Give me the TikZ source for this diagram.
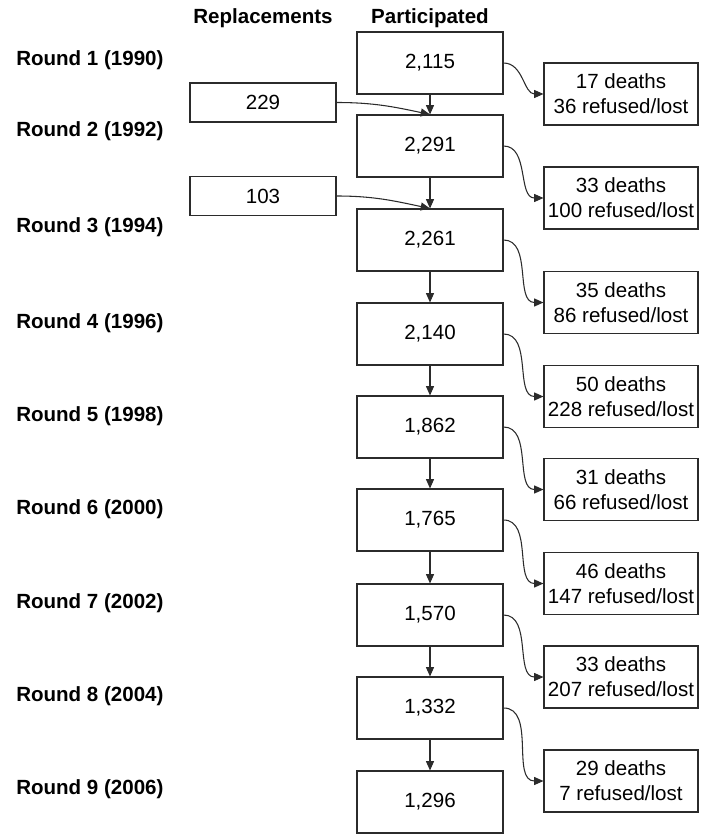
\documentclass[tikz,border=0pt]{standalone}
\usepackage{fontspec}
\setmainfont{Liberation Sans}
\usetikzlibrary{arrows.meta,positioning}
\definecolor{LineGray}{HTML}{2B2B2B}
\tikzset{
  pbox/.style={rectangle,draw=LineGray,line width=0.8pt,fill=white,
               minimum width=146*0.75pt,minimum height=62*0.75pt,
               inner sep=0pt,font=\fontsize{15.4}{18.8}\selectfont},
  rbox/.style={pbox,minimum height=39*0.75pt},
  dbox/.style={pbox,minimum width=154*0.75pt,align=center},
  rlab/.style={anchor=west,inner sep=0pt,font=\fontsize{15.4}{18.8}\selectfont\bfseries},
  head/.style={inner sep=0pt,font=\fontsize{15.4}{18.8}\selectfont\bfseries},
  arr/.style={-{Triangle[length=7pt,width=6pt]},line width=0.8pt,color=LineGray},
}
\begin{document}
\begin{tikzpicture}[x=0.75pt,y=-0.75pt]
  \useasboundingbox (0,0) rectangle (700,834);

  \node[head] (hrep)  at (263,18) {Replacements};
  \node[head] (hpart) at (430,18) {Participated};

  \node[rlab] (l1) at (16,60)  {Round 1 (1990)};
  \node[rlab] (l2) at (16,131) {Round 2 (1992)};
  \node[rlab] (l3) at (16,227) {Round 3 (1994)};
  \node[rlab] (l4) at (16,323) {Round 4 (1996)};
  \node[rlab] (l5) at (16,416) {Round 5 (1998)};
  \node[rlab] (l6) at (16,509) {Round 6 (2000)};
  \node[rlab] (l7) at (16,603) {Round 7 (2002)};
  \node[rlab] (l8) at (16,696) {Round 8 (2004)};
  \node[rlab] (l9) at (16,789) {Round 9 (2006)};

  % participants per round
  \node[pbox] (p1) at (430,63)  {2,115};
  \node[pbox] (p2) at (430,146) {2,291};
  \node[pbox] (p3) at (430,240) {2,261};
  \node[pbox] (p4) at (430,334) {2,140};
  \node[pbox] (p5) at (430,427) {1,862};
  \node[pbox] (p6) at (430,520) {1,765};
  \node[pbox] (p7) at (430,615) {1,570};
  \node[pbox] (p8) at (430,708) {1,332};
  \node[pbox] (p9) at (430,802) {1,296};

  \draw[arr] (p1) -- (p2);
  \draw[arr] (p2) -- (p3);
  \draw[arr] (p3) -- (p4);
  \draw[arr] (p4) -- (p5);
  \draw[arr] (p5) -- (p6);
  \draw[arr] (p6) -- (p7);
  \draw[arr] (p7) -- (p8);
  \draw[arr] (p8) -- (p9);

  % replacements
  \node[rbox] (r2) at (263,102.5) {229};
  \node[rbox] (r3) at (263,196)   {103};
  \draw[arr] (r2.east) to[out=0,in=168] (p2.north);
  \draw[arr] (r3.east) to[out=0,in=168] (p3.north);

  % losses between rounds
  \node[dbox] (d1) at (621,94)    {17 deaths\\36 refused/lost};
  \node[dbox] (d2) at (621,198)   {33 deaths\\100 refused/lost};
  \node[dbox] (d3) at (621,302.5) {35 deaths\\86 refused/lost};
  \node[dbox] (d4) at (621,396.5) {50 deaths\\228 refused/lost};
  \node[dbox] (d5) at (621,489.5) {31 deaths\\66 refused/lost};
  \node[dbox] (d6) at (621,583.5) {46 deaths\\147 refused/lost};
  \node[dbox] (d7) at (621,677)   {33 deaths\\207 refused/lost};
  \node[dbox] (d8) at (621,781)   {29 deaths\\7 refused/lost};

  \draw[arr] (p1.east) to[out=0,in=180] (d1.west);
  \draw[arr] (p2.east) to[out=0,in=180] (d2.west);
  \draw[arr] (p3.east) to[out=0,in=180] (d3.west);
  \draw[arr] (p4.east) to[out=0,in=180] (d4.west);
  \draw[arr] (p5.east) to[out=0,in=180] (d5.west);
  \draw[arr] (p6.east) to[out=0,in=180] (d6.west);
  \draw[arr] (p7.east) to[out=0,in=180] (d7.west);
  \draw[arr] (p8.east) to[out=0,in=180] (d8.west);

\end{tikzpicture}
\end{document}
